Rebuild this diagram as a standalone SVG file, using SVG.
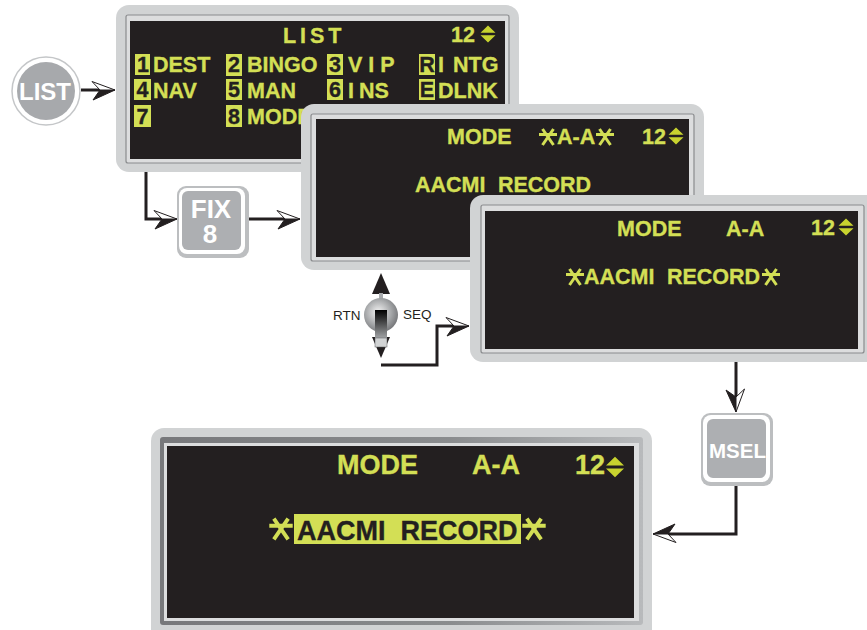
<svg xmlns="http://www.w3.org/2000/svg" xmlns:xlink="http://www.w3.org/1999/xlink" width="867" height="630" viewBox="0 0 867 630">
<style>
text{font-family:"Liberation Sans",Arial,sans-serif;font-weight:700}
.y{fill:#d3df55;stroke:#d3df55;stroke-width:.35;font-size:21.500px}
.d{fill:#231f20;stroke:#231f20;stroke-width:.35;font-size:21.500px}
.n{text-anchor:middle}
.b{fill:#d3df55}
.w{fill:#fff}
.frame{fill:#d1d3d4}
.line{fill:none;stroke:#8a8c8e;stroke-width:1.200}
.strip{fill:#dcddde}
.screen{fill:#231f20}
.c{fill:none;stroke:#231f20;stroke-width:3}
.star{fill:none;stroke:#d3df55;stroke-width:3}
.lab{font-weight:400;font-size:13.500px;fill:#231f20}
</style>
<defs>
<g id="ah"><path d="M0 0L-22 10L-15 0Z" fill="#231f20" stroke="#231f20" stroke-width="1" stroke-linejoin="miter"/><path d="M0 0L-23-8.500L-15 0Z" fill="#fff" stroke="#231f20" stroke-width="1"/></g>
<g id="st"><path class="star" d="M-9-2.500H9M-5.500-8L5.500 8M5.500-8L-5.500 8"/></g>
<g id="ud"><path d="M0-8.500L7.500-1.200H-7.500Z M0 8.500L7.500 1.200H-7.500Z" fill="#c8d32f"/></g>
<radialGradient id="knob" cx="0.42" cy="0.42" r="0.65"><stop offset="0" stop-color="#f4f4f4"/><stop offset="0.6" stop-color="#a3a5a7"/><stop offset="1" stop-color="#6d6e71"/></radialGradient>
<linearGradient id="lev" x1="0" y1="0" x2="0" y2="1"><stop offset="0" stop-color="#000"/><stop offset="1" stop-color="#a0a2a4"/></linearGradient>
<linearGradient id="band" x1="0" y1="0" x2="1" y2="0"><stop offset="0" stop-color="#77787b"/><stop offset="0.6" stop-color="#8a8c8e"/><stop offset="1" stop-color="#b8babc"/></linearGradient>
</defs>

<g id="connectors">
<path class="c" d="M81 90H100"/><use xlink:href="#ah" transform="translate(115 90)"/>
<path class="c" d="M146 172V219H162"/><use xlink:href="#ah" transform="translate(177 219)"/>
<path class="c" d="M249 219H285"/><use xlink:href="#ah" transform="translate(300 219)"/>
<path class="c" d="M381 365H437V326H454"/><use xlink:href="#ah" transform="translate(469 326)"/>
<path class="c" d="M736 362V397"/><use xlink:href="#ah" transform="translate(736 412) rotate(90)"/>
<path class="c" d="M736 486V534H668"/><use xlink:href="#ah" transform="translate(653 534) rotate(180)"/>
</g>

<g id="list-button">
<circle cx="46" cy="91" r="34" fill="#fff" stroke="#c4c6c8" stroke-width="1.500"/>
<circle cx="46" cy="91" r="29" fill="#a7a9ac"/>
<text x="45" y="100" text-anchor="middle" font-size="24" class="w">LIST</text>
</g>

<g id="fix-key">
<rect x="177" y="186" width="72" height="72" rx="9" fill="#bcbec0"/>
<rect x="179" y="188" width="66" height="66" rx="8" fill="#fff"/>
<rect x="182" y="191" width="59" height="59" rx="6" fill="#adafb2"/>
<text x="211" y="218" text-anchor="middle" font-size="26" class="w">FIX</text>
<text x="210" y="243" text-anchor="middle" font-size="26" class="w">8</text>
</g>

<g id="panel-list">
<rect class="frame" x="116" y="5" width="403" height="167" rx="13"/>
<rect class="strip" x="126" y="15" width="383" height="148" rx="2"/>
<rect class="line" x="126" y="15" width="383" height="148" rx="2"/>
<rect class="screen" x="130" y="21" width="375" height="138"/>
<text class="y" x="283" y="43" letter-spacing="3.900">LIST</text>
<text class="y" x="451" y="42">12</text><use xlink:href="#ud" transform="translate(488 34)"/>
<rect class="b" x="135" y="54" width="15" height="21"/><text class="d n" x="143" y="72">1</text>
<text class="y" x="153" y="72">DEST</text>
<rect class="b" x="226" y="54" width="16" height="22"/><text class="d n" x="234" y="72">2</text>
<text class="y" x="247" y="72">BINGO</text>
<rect class="b" x="327" y="54" width="16" height="21"/><text class="d n" x="335" y="72">3</text>
<text class="y" x="348" y="72" letter-spacing="6">VIP</text>
<rect class="b" x="419" y="54" width="16" height="21"/><text class="d n" x="427" y="72">R</text>
<text class="y" x="438" y="72">I<tspan dx="9">NTG</tspan></text>
<rect class="b" x="134" y="79" width="17" height="21"/><text class="d n" x="142.500" y="97">4</text>
<text class="y" x="153" y="98">NAV</text>
<rect class="b" x="226" y="79" width="16" height="21"/><text class="d n" x="234" y="97">5</text>
<text class="y" x="247" y="98">MAN</text>
<rect class="b" x="327" y="79" width="16" height="21"/><text class="d n" x="335" y="97">6</text>
<text class="y" x="348" y="98">I<tspan dx="5">NS</tspan></text>
<rect class="b" x="419" y="79" width="16" height="21"/><text class="d n" x="427" y="97">E</text>
<text class="y" x="438" y="98">DLNK</text>
<rect class="b" x="134" y="105" width="17" height="22"/><text class="d n" x="142.500" y="124">7</text>
<rect class="b" x="226" y="105" width="16" height="22"/><text class="d n" x="234" y="124">8</text>
<text class="y" x="247" y="124">MODE</text>
</g>

<g id="panel-mode-star">
<rect class="frame" x="301" y="104" width="403" height="166" rx="13"/>
<rect class="strip" x="311" y="114" width="383" height="147" rx="2"/>
<rect class="line" x="311" y="114" width="383" height="147" rx="2"/>
<rect class="screen" x="316" y="119" width="373" height="138"/>
<text class="y" x="447" y="144">MODE</text>
<use xlink:href="#st" transform="translate(548 137)"/>
<text class="y" x="557" y="144">A-A</text>
<use xlink:href="#st" transform="translate(605 137)"/>
<text class="y" x="642" y="144">12</text><use xlink:href="#ud" transform="translate(676 136)"/>
<text class="y" x="415" y="192" word-spacing="6.500">AACMI RECORD</text>
</g>

<g id="panel-record-star">
<rect class="frame" x="470" y="195" width="410" height="167" rx="13"/>
<rect class="strip" x="481" y="205" width="383" height="148" rx="2"/>
<rect class="line" x="481" y="205" width="383" height="148" rx="2"/>
<rect class="screen" x="485" y="211" width="373" height="138"/>
<text class="y" x="617" y="236">MODE</text>
<text class="y" x="726" y="236">A-A</text>
<text class="y" x="811" y="235">12</text><use xlink:href="#ud" transform="translate(846 227)"/>
<use xlink:href="#st" transform="translate(575 277)"/>
<text class="y" x="584" y="284" word-spacing="6.500">AACMI RECORD</text>
<use xlink:href="#st" transform="translate(771 277)"/>
</g>

<g id="toggle">
<path d="M381 273L390 294H372Z" fill="#231f20"/>
<rect x="379" y="293" width="4" height="6" fill="#a7a9ac"/>
<circle cx="381" cy="315" r="17" fill="url(#knob)"/>
<path d="M381 358L390 337H372Z" fill="#231f20"/>
<rect x="375" y="310" width="12" height="28" fill="url(#lev)"/>
<rect x="375" y="338" width="12" height="9" fill="#d1d3d4" stroke="#58595b" stroke-width=".5"/>
<text class="lab" x="333" y="320">RTN</text>
<text class="lab" x="403" y="319">SEQ</text>
</g>

<g id="msel-key">
<rect x="701" y="413" width="72" height="73" rx="9" fill="#bcbec0"/>
<rect x="703" y="415" width="67" height="67" rx="8" fill="#fff"/>
<rect x="707" y="419" width="59" height="59" rx="6" fill="#adafb2"/>
<text x="709" y="458" font-size="20.500" class="w">MSEL</text>
</g>

<g id="panel-record-selected">
<rect class="frame" x="151" y="428" width="501" height="215" rx="13"/>
<rect x="160" y="437" width="483" height="188" rx="3" fill="url(#band)"/>
<rect class="strip" x="164" y="443" width="475" height="178"/>
<rect class="screen" x="167" y="446" width="467" height="172"/>
<text class="y" style="font-size:27px" x="337" y="474">MODE</text>
<text class="y" style="font-size:27px" x="472" y="474">A-A</text>
<text class="y" style="font-size:27px" x="575" y="474">12</text><use xlink:href="#ud" transform="translate(615 467) scale(1.200)"/>
<use xlink:href="#st" transform="translate(281 529) scale(1.300)"/>
<rect class="b" x="294" y="514" width="227" height="30"/>
<text class="d" style="font-size:27px" x="297" y="540" word-spacing="7.500">AACMI RECORD</text>
<use xlink:href="#st" transform="translate(534 529) scale(1.300)"/>
</g>
</svg>
